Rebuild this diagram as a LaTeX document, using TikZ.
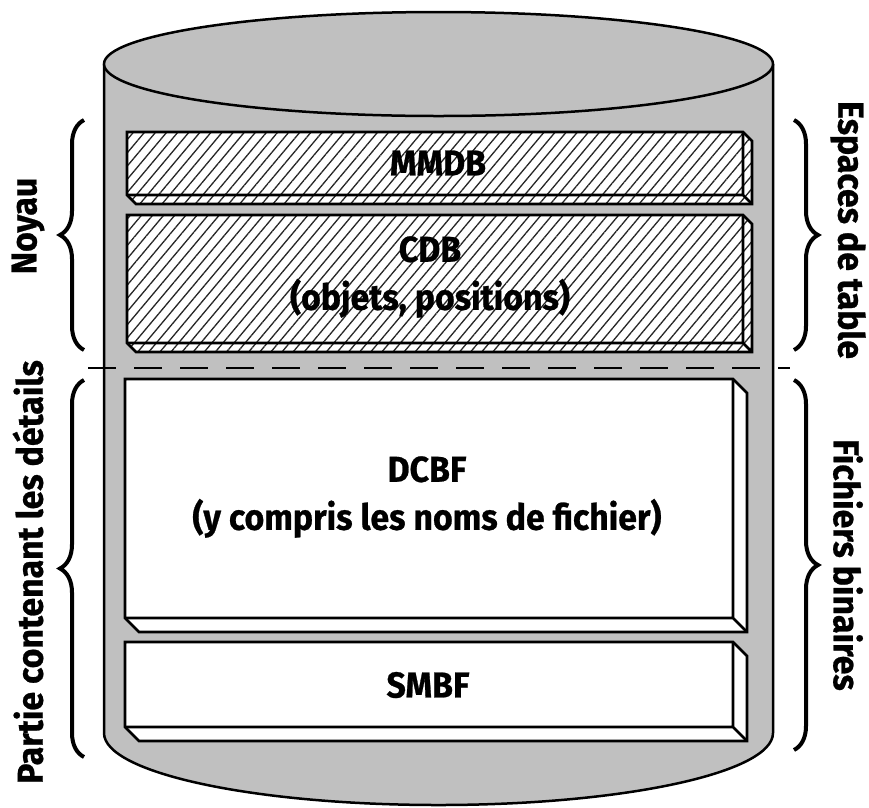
\documentclass[tikz,border=0pt]{standalone}
\usepackage{fontspec}
\setmainfont[FakeStretch=0.94, BoldFeatures={FakeBold=0.7}]{Fira Sans}
\usetikzlibrary{patterns.meta}
\usetikzlibrary{decorations.pathreplacing}

\definecolor{cylgray}{RGB}{192,192,192}

\tikzset{
    cyl/.style={draw=black, line width=2.5pt},
    slab/.style={draw=black, line width=2.8pt, line join=miter},
    hatched/.style={pattern={Lines[angle=50,distance=8.5pt,line width=1.3pt]}, pattern color=black!85},
    txt/.style={font=\bfseries\fontsize{36}{48}\selectfont, align=center, inner sep=0pt},
    curly/.style={decorate, decoration={brace, amplitude=24pt}, line width=4pt},
}

\begin{document}
\begin{tikzpicture}[x=1pt, y=-1pt]
        \useasboundingbox (0,0) rectangle (869,807);

        % cylinder
        \path[fill=cylgray] (104,64) -- (104,733)
            arc[start angle=180, end angle=360, x radius=334.5pt, y radius=72pt]
            -- (773,64) -- cycle;
        \draw[cyl] (104,64) -- (104,733)
            arc[start angle=180, end angle=360, x radius=334.5pt, y radius=72pt]
            -- (773,64);
        \draw[cyl, fill=cylgray] (438.5,64) ellipse [x radius=334.5pt, y radius=52pt];

        % MMDB
        \fill[white] (127,132) -- (743,132) -- (752,141) -- (752,204) -- (136,204) -- (127,195) -- cycle;
        \path[hatched] (127,132) -- (743,132) -- (752,141) -- (752,204) -- (136,204) -- (127,195) -- cycle;
        \draw[slab] (127,132) -- (743,132) -- (752,141) -- (752,204) -- (136,204) -- (127,195) -- cycle;
        \draw[slab] (127,195) -- (743,195) -- (743,132) (743,195) -- (752,204);

        % CDB
        \fill[white] (127,215) -- (743,215) -- (752,224) -- (752,352) -- (136,352) -- (127,343) -- cycle;
        \path[hatched] (127,215) -- (743,215) -- (752,224) -- (752,352) -- (136,352) -- (127,343) -- cycle;
        \draw[slab] (127,215) -- (743,215) -- (752,224) -- (752,352) -- (136,352) -- (127,343) -- cycle;
        \draw[slab] (127,343) -- (743,343) -- (743,215) (743,343) -- (752,352);

        % DCBF
        \draw[slab, fill=white] (125,379) -- (733,379) -- (747,393) -- (747,632) -- (139,632) -- (125,618) -- cycle;
        \draw[slab] (125,618) -- (733,618) -- (733,379) (733,618) -- (747,632);

        % SMBF
        \draw[slab, fill=white] (125,642) -- (733,642) -- (747,656) -- (747,741) -- (139,741) -- (125,727) -- cycle;
        \draw[slab] (125,727) -- (733,727) -- (733,642) (733,727) -- (747,741);

        \draw[line width=2.5pt, dash pattern=on 28pt off 18pt] (88,368) -- (790,368);

        \node[txt] (mmdb) at (438,163) {MMDB};
        \node[txt] (cdb) at (430,277) {CDB\\(objets, positions)};
        \node[txt] (dcbf) at (427,497) {DCBF\\(y compris les noms de fichier)};
        \node[txt] (smbf) at (428,685) {SMBF};

        % braces
        \coordinate (noyauA) at (84,350);
        \coordinate (noyauB) at (84,120);
        \coordinate (partieA) at (84,757);
        \coordinate (partieB) at (84,380);
        \coordinate (espacesA) at (794,120);
        \coordinate (espacesB) at (794,350);
        \coordinate (fichiersA) at (794,380);
        \coordinate (fichiersB) at (794,750);
        \draw[curly] (noyauA) -- (noyauB);
        \draw[curly] (partieA) -- (partieB);
        \draw[curly] (espacesA) -- (espacesB);
        \draw[curly] (fichiersA) -- (fichiersB);

        \node[txt, rotate=90] (noyau) at (28,226) {Noyau};
        \node[txt, rotate=90] (partie) at (28,572) {Partie contenant les détails};
        \node[txt, rotate=-90] (espaces) at (848,230) {Espaces de table};
        \node[txt, rotate=-90] (fichiers) at (848,565) {Fichiers binaires};
\end{tikzpicture}
\end{document}
